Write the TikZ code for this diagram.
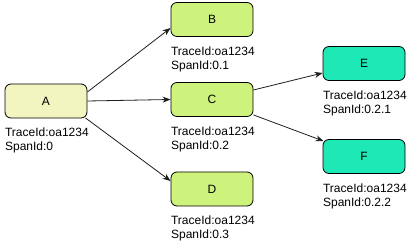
\documentclass[tikz,border=0pt]{standalone}
\usepackage{fontspec}
\setmainfont{Liberation Sans}
\usetikzlibrary{arrows.meta}
\definecolor{ayellow}{RGB}{243,245,192}
\definecolor{agreen}{RGB}{205,243,125}
\definecolor{ateal}{RGB}{30,232,182}
\definecolor{edgegray}{RGB}{30,30,30}
\begin{document}
\begin{tikzpicture}[x=1pt,y=-1pt,
  spanbox/.style={draw=black, line width=0.8pt, rounded corners=6pt,
    minimum width=82pt, minimum height=34pt, inner sep=0pt,
    font=\fontsize{12}{14}\selectfont},
  infotext/.style={anchor=north west, align=left, inner sep=0pt,
    font=\fontsize{12}{14}\selectfont},
  link/.style={draw=edgegray, line width=0.8pt, -{Stealth[length=8pt,width=6pt]}}]
\useasboundingbox (0,0) rectangle (412,245);
\node[spanbox, fill=ayellow] (A) at (46,101) {A};
\node[spanbox, fill=agreen] (B) at (212,19.5) {B};
\node[spanbox, fill=agreen] (C) at (212,99.5) {C};
\node[spanbox, fill=agreen] (D) at (212,189) {D};
\node[spanbox, fill=ateal] (E) at (364,63.5) {E};
\node[spanbox, fill=ateal] (F) at (364,156.5) {F};
\foreach \n/\s in {A/0,B/0.1,C/0.2,D/0.3,E/0.2.1,F/0.2.2}{
  \node[infotext] (L\n) at ([xshift=0.3pt,yshift=-9.5pt]\n.south west) {TraceId:oa1234\\SpanId:\s};
}
\draw[link] ([yshift=9pt]A.east) -- ([yshift=-8.5pt]B.west);
\draw[link] (A.east) -- (C.west);
\draw[link] ([xshift=-2pt,yshift=0.5pt]A.south east) -- ([yshift=8pt]D.west);
\draw[link] ([yshift=9.5pt]C.east) -- ([yshift=-9.5pt]E.west);
\draw[link] ([yshift=2pt]C.south east) -- ([xshift=1pt,yshift=-2pt]F.north west);
\end{tikzpicture}
\end{document}
